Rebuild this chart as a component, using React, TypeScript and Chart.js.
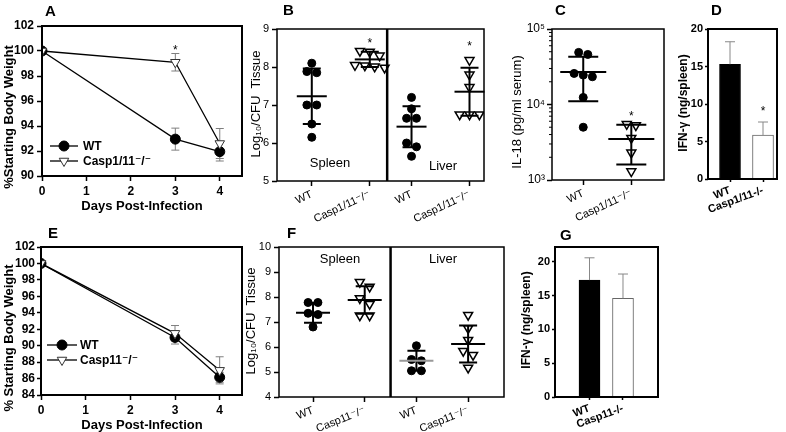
import React, { useEffect, useRef } from "react";
import { Chart, registerables } from "chart.js";

Chart.register(...registerables);

// ---------------- DATA ----------------
// Panel A: body weight (Casp1/11-/- vs WT)
const daysA = [0, 3, 4];
const weightWT_A = [100, 92.95, 91.95];
const weightWT_A_err = [0, 0.88, 0.75];
const weightCasp_A = [100, 99.1, 92.6];
const weightCasp_A_err = [0, 0.7, 1.2];

// Panel B: Log10 CFU per tissue
const bLabels = ["WT", "Casp1/11\u207B/\u207B", "WT", "Casp1/11\u207B/\u207B"];
const bSpleenWT = [8.1, 7.88, 7.85, 7.0, 7.0, 6.5, 6.15];
const bSpleenCasp = [8.42, 8.4, 8.3, 8.05, 8.04, 8.01, 7.98];
const bLiverWT = [7.2, 6.9, 6.65, 6.65, 6.0, 5.9, 5.65];
const bLiverCasp = [8.18, 7.8, 7.47, 6.75, 6.75, 6.75];
const bMeans = [7.23, 8.2, 6.43, 7.35];
const bSDs = [0.73, 0.2, 0.54, 0.63];

// Panel C: IL-18 (pg/ml serum)
const cLabels = ["WT", "Casp1/11\u207B/\u207B"];
const cWT = [49000, 46000, 25800, 24500, 23300, 12400, 5000];
const cCasp = [5500, 5300, 3600, 2300, 1300];
const cMeans = [27000, 3500];
const cSDs = [16000, 1900];

// Panel D: IFN-gamma
const dLabels = ["WT", "Casp1/11-/-"];
const dIFN = [15.3, 5.85];
const dIFNerr = [3.0, 1.75];

// Panel E: body weight (Casp11-/- vs WT)
const daysE = [0, 3, 4];
const weightWT_E = [100, 91.0, 86.15];
const weightWT_E_err = [0, 0.8, 0.6];
const weightCasp_E = [100, 91.5, 87.0];
const weightCasp_E_err = [0, 0.95, 1.65];

// Panel F: Log10 CFU per tissue
const fLabels = ["WT", "Casp11\u207B/\u207B", "WT", "Casp11\u207B/\u207B"];
const fSpleenWT = [7.78, 7.78, 7.35, 7.3, 6.8];
const fSpleenCasp = [8.6, 8.41, 7.95, 7.72, 7.26, 7.26];
const fLiverWT = [6.05, 5.5, 5.45, 5.05, 5.05];
const fLiverCasp = [7.28, 6.75, 6.28, 5.84, 5.68, 5.17];
const fMeans = [7.37, 7.88, 5.45, 6.12];
const fSDs = [0.4, 0.55, 0.4, 0.74];

// Panel G: IFN-gamma
const gLabels = ["WT", "Casp11-/-"];
const gIFN = [17.3, 14.6];
const gIFNerr = [3.3, 3.6];

// ---------------- LAYOUT ----------------
const W = 786;
const H = 432;
const FONT = "'Liberation Sans', Arial, Helvetica, 'DejaVu Sans', sans-serif";
const f = (size: number, bold = false) => ({ size, weight: bold ? "bold" : "normal", family: FONT });
const cssFont = (size: number, bold = false) => `${bold ? "bold " : ""}${size}px ${FONT}`;

const B_POS = [1, 2, 2.72, 3.72];
const B_DIV = 2.3;
const F_POS = [1, 2, 3, 4];
const F_DIV = 2.5;

type Rect = { l: number; t: number; r: number; b: number };
type TextItem = {
  text: string; x: number; y: number; font: string;
  align?: CanvasTextAlign; rot?: boolean; data?: boolean; star?: boolean; color?: string;
};
type Summary = { x: number; mean: number; sd: number; meanHalf: number; capHalf: number; meanColor?: string };
type PanelCfg = {
  frameWidth: number;
  dividers?: { x: number; width: number }[];
  texts?: TextItem[];
  summaries?: Summary[];
  legend?: { x1: number; x2: number; mx: number; tx: number; font: string; items: { y: number; ds: number }[] };
  minorLog?: number[];
};

function drawMarker(ctx: CanvasRenderingContext2D, shape: string, x: number, y: number, r: number, fill: string, stroke: string, lw: number) {
  ctx.beginPath();
  if (shape === "circle") ctx.arc(x, y, r, 0, Math.PI * 2);
  else {
    ctx.moveTo(x - r * 0.866, y - r * 0.5);
    ctx.lineTo(x + r * 0.866, y - r * 0.5);
    ctx.lineTo(x, y + r);
    ctx.closePath();
  }
  ctx.fillStyle = fill;
  ctx.fill();
  ctx.lineWidth = lw;
  ctx.strokeStyle = stroke;
  ctx.stroke();
}

function drawErrors(chart: any, layer: string) {
  const ctx = chart.ctx as CanvasRenderingContext2D;
  const ys = chart.scales.y;
  chart.data.datasets.forEach((ds: any, i: number) => {
    if (!ds.errors || ds.errLayer !== layer) return;
    const meta = chart.getDatasetMeta(i);
    ctx.save();
    ctx.strokeStyle = ds.errColor || "#808080";
    ctx.lineWidth = 1;
    ds.data.forEach((p: any, j: number) => {
      const e = ds.errors[j];
      if (!e) return;
      const el = meta.data[j];
      const x = el.x;
      const yt = ys.getPixelForValue(p.y + e);
      const yb = ds.oneSided ? el.y : ys.getPixelForValue(p.y - e);
      const c = ds.errCap || 4;
      ctx.beginPath();
      ctx.moveTo(x, yt); ctx.lineTo(x, yb);
      ctx.moveTo(x - c, yt); ctx.lineTo(x + c, yt);
      if (!ds.oneSided) { ctx.moveTo(x - c, yb); ctx.lineTo(x + c, yb); }
      ctx.stroke();
    });
    ctx.restore();
  });
}

function makePlugin(cfg: PanelCfg) {
  return {
    id: "panel",
    beforeDatasetsDraw(chart: any) {
      drawErrors(chart, "under");
    },
    afterDatasetsDraw(chart: any) {
      drawErrors(chart, "over");
      const ctx = chart.ctx as CanvasRenderingContext2D;
      const ca = chart.chartArea;
      const xs = chart.scales.x;
      const ys = chart.scales.y;
      ctx.save();
      (cfg.summaries || []).forEach((s) => {
        const x = xs.getPixelForValue(s.x);
        const ym = ys.getPixelForValue(s.mean);
        const yt = ys.getPixelForValue(s.mean + s.sd);
        const yb = ys.getPixelForValue(s.mean - s.sd);
        ctx.strokeStyle = "#000";
        ctx.lineWidth = 2;
        ctx.beginPath();
        ctx.moveTo(x, yt); ctx.lineTo(x, yb);
        ctx.moveTo(x - s.capHalf, yt); ctx.lineTo(x + s.capHalf, yt);
        ctx.moveTo(x - s.capHalf, yb); ctx.lineTo(x + s.capHalf, yb);
        ctx.stroke();
        ctx.strokeStyle = s.meanColor || "#000";
        ctx.beginPath();
        ctx.moveTo(x - s.meanHalf, ym); ctx.lineTo(x + s.meanHalf, ym);
        ctx.stroke();
      });
      (cfg.dividers || []).forEach((d) => {
        const x = xs.getPixelForValue(d.x);
        ctx.strokeStyle = "#000";
        ctx.lineWidth = d.width;
        ctx.beginPath();
        ctx.moveTo(x, ca.top); ctx.lineTo(x, ca.bottom);
        ctx.stroke();
      });
      if (cfg.minorLog) {
        ctx.strokeStyle = "#000";
        ctx.lineWidth = 1;
        cfg.minorLog.forEach((v) => {
          const y = ys.getPixelForValue(v);
          ctx.beginPath();
          ctx.moveTo(ca.left - 3, y); ctx.lineTo(ca.left, y);
          ctx.stroke();
        });
      }
      ctx.strokeStyle = "#000";
      ctx.lineWidth = cfg.frameWidth;
      ctx.strokeRect(ca.left, ca.top, ca.right - ca.left, ca.bottom - ca.top);
      ctx.restore();
    },
    afterDraw(chart: any) {
      const ctx = chart.ctx as CanvasRenderingContext2D;
      (cfg.texts || []).forEach((t) => {
        let x = t.x, y = t.y;
        if (t.data) { x = chart.scales.x.getPixelForValue(t.x); y = chart.scales.y.getPixelForValue(t.y); }
        ctx.save();
        ctx.font = t.font;
        ctx.fillStyle = t.color || "#000";
        ctx.translate(x, y);
        if (t.rot) {
          ctx.rotate(-Math.PI / 2);
          ctx.textAlign = "center";
          ctx.textBaseline = "middle";
          ctx.fillText(t.text, 0, 0);
        } else {
          ctx.textAlign = t.align || "left";
          ctx.textBaseline = "alphabetic";
          ctx.fillText(t.text, 0, t.star ? 7 : 0);
        }
        ctx.restore();
      });
      const lg = cfg.legend;
      if (lg) {
        lg.items.forEach((it) => {
          const ds = chart.data.datasets[it.ds];
          ctx.save();
          ctx.strokeStyle = "#000";
          ctx.lineWidth = 1.3;
          ctx.beginPath();
          ctx.moveTo(lg.x1, it.y); ctx.lineTo(lg.x2, it.y);
          ctx.stroke();
          drawMarker(ctx, ds.pointStyle === "circle" ? "circle" : "tri", lg.mx, it.y, ds.pointRadius, ds.pointBackgroundColor, ds.pointBorderColor, ds.pointBorderWidth);
          ctx.font = lg.font;
          ctx.fillStyle = "#000";
          ctx.textAlign = "left";
          ctx.textBaseline = "middle";
          ctx.fillText(ds.label, lg.tx, it.y + 1);
          ctx.restore();
        });
      }
    },
  };
}

const gridCfg = (len: number) => ({
  display: true, drawOnChartArea: false, drawTicks: true, tickLength: len,
  tickColor: "#000", tickWidth: 1.5, offset: false,
});

function zeroPad(s: any) {
  s.paddingLeft = 0; s.paddingRight = 0; s.paddingTop = 0; s.paddingBottom = 0;
}

function buildConfig(p: { rect: Rect; yw: number; xh: number; type: string; datasets: any[]; x: any; y: any; plugin: any }) {
  const pad = { left: p.rect.l - p.yw, top: p.rect.t, right: W - p.rect.r, bottom: H - p.rect.b - p.xh };
  return {
    type: p.type,
    data: { datasets: p.datasets },
    options: {
      responsive: false,
      animation: false,
      events: [],
      layout: { padding: pad },
      plugins: { legend: { display: false }, tooltip: { enabled: false }, title: { display: false } },
      scales: {
        x: { ...p.x, offset: false, border: { display: false }, afterFit: (s: any) => { s.height = p.xh; zeroPad(s); } },
        y: { ...p.y, ticks: { autoSkip: false, ...p.y.ticks }, border: { display: false }, afterFit: (s: any) => { s.width = p.yw; zeroPad(s); } },
      },
    },
    plugins: [p.plugin],
  } as any;
}

function spread(values: number[], center: number, thr: number, step: number, log = false) {
  const key = (v: number) => (log ? Math.log10(v) : v);
  const idx = values.map((_, i) => i).sort((a, b) => values[b] - values[a]);
  const clusters: number[][] = [];
  idx.forEach((i) => {
    const last = clusters[clusters.length - 1];
    if (last && key(values[last[last.length - 1]]) - key(values[i]) < thr) last.push(i);
    else clusters.push([i]);
  });
  const out = values.map((v) => ({ x: center, y: v }));
  clusters.forEach((c) => c.forEach((i, k) => { out[i].x = center + (k - (c.length - 1) / 2) * step; }));
  return out;
}

const lineDs = (label: string, xs: number[], ys: number[], errs: number[], shape: string) => ({
  label,
  data: xs.map((x, i) => ({ x, y: ys[i] })),
  errors: errs, errLayer: "under", errColor: "#7f7f7f", errCap: 4,
  showLine: true, borderColor: "#000", borderWidth: 1.3,
  pointStyle: shape === "circle" ? "circle" : "triangle",
  pointRotation: shape === "circle" ? 0 : 180,
  pointRadius: shape === "circle" ? 5 : 5.5,
  pointBackgroundColor: shape === "circle" ? "#000" : "#fff",
  pointBorderColor: shape === "circle" ? "#000" : "#333",
  pointBorderWidth: 1,
});

const dotDs = (label: string, data: any[]) => ({
  label, data, showLine: false, pointStyle: "circle", pointRadius: 4,
  pointBackgroundColor: "#000", pointBorderColor: "#000", pointBorderWidth: 1,
});
const triDs = (label: string, data: any[]) => ({
  label, data, showLine: false, pointStyle: "triangle", pointRotation: 180, pointRadius: 5.2,
  pointBackgroundColor: "#fff", pointBorderColor: "#000", pointBorderWidth: 1.5,
});

const star = (x: number, y: number): TextItem => ({ text: "*", x, y, data: true, star: true, align: "center", font: cssFont(12) });

const fixedTicks = (pos: number[]) => (s: any) => { s.ticks = pos.map((v) => ({ value: v })); };

// ---------------- PANELS ----------------
function specA() {
  return buildConfig({
    rect: { l: 42, t: 26, r: 242, b: 176 }, yw: 42, xh: 40, type: "scatter",
    datasets: [
      lineDs("Casp1/11\u207B/\u207B", daysA, weightCasp_A, weightCasp_A_err, "tri"),
      lineDs("WT", daysA, weightWT_A, weightWT_A_err, "circle"),
    ],
    x: { type: "linear", min: 0, max: 4.5, ticks: { stepSize: 1, includeBounds: false, font: f(12, true), color: "#000", padding: 3 }, grid: gridCfg(5) },
    y: { type: "linear", min: 90, max: 102, ticks: { stepSize: 2, font: f(12, true), color: "#000", padding: 3 }, grid: gridCfg(5) },
    plugin: makePlugin({
      frameWidth: 2,
      texts: [
        { text: "A", x: 45, y: 16, font: cssFont(15, true) },
        { text: "%Starting Body Weight", x: 9, y: 117, font: cssFont(13, true), rot: true },
        { text: "Days Post-Infection", x: 142, y: 210, font: cssFont(13, true), align: "center" },
        star(3, 100.3),
      ],
      legend: { x1: 50, x2: 78, mx: 64, tx: 83, font: cssFont(12, true), items: [{ y: 146, ds: 1 }, { y: 161, ds: 0 }] },
    }),
  });
}

function specB() {
  const step = 0.17;
  const wt = [...spread(bSpleenWT, B_POS[0], 0.15, step), ...spread(bLiverWT, B_POS[2], 0.15, step)];
  const ca = [...spread(bSpleenCasp, B_POS[1], 0.15, step), ...spread(bLiverCasp, B_POS[3], 0.15, step)];
  return buildConfig({
    rect: { l: 277, t: 29, r: 484, b: 181 }, yw: 31, xh: 45, type: "scatter",
    datasets: [triDs("Casp1/11", ca), dotDs("WT", wt)],
    x: {
      type: "linear", min: 0.4, max: 3.97, afterBuildTicks: fixedTicks(B_POS),
      ticks: { autoSkip: false, minRotation: 25, maxRotation: 25, font: f(11), color: "#000", padding: 2, callback: (_v: any, i: number) => bLabels[i] },
      grid: gridCfg(5),
    },
    y: { type: "linear", min: 5, max: 9, ticks: { stepSize: 1, font: f(11), color: "#000", padding: 3 }, grid: gridCfg(5) },
    plugin: makePlugin({
      frameWidth: 1.5,
      dividers: [{ x: B_DIV, width: 2.5 }],
      summaries: B_POS.map((x, i) => ({ x, mean: bMeans[i], sd: bSDs[i], meanHalf: 15, capHalf: 9 })),
      texts: [
        { text: "B", x: 283, y: 15, font: cssFont(15, true) },
        { text: "Log\u2081\u2080/CFU  Tissue", x: 256, y: 104, font: cssFont(13), rot: true },
        { text: "Spleen", x: 330, y: 167, font: cssFont(13), align: "center" },
        { text: "Liver", x: 443, y: 170, font: cssFont(13), align: "center" },
        star(B_POS[1], 8.72),
        star(B_POS[3], 8.63),
      ],
    }),
  });
}

function specC() {
  const step = 0.19;
  const minors: number[] = [];
  [1000, 10000].forEach((d) => { for (let k = 2; k <= 9; k++) minors.push(k * d); });
  const sup: Record<number, string> = { 1000: "10\u00B3", 10000: "10\u2074", 100000: "10\u2075" };
  return buildConfig({
    rect: { l: 552, t: 29, r: 664, b: 180 }, yw: 44, xh: 45, type: "scatter",
    datasets: [triDs("Casp1/11", spread(cCasp, 2, 0.06, step, true)), dotDs("WT", spread(cWT, 1, 0.06, step, true))],
    x: {
      type: "linear", min: 0.35, max: 2.68, afterBuildTicks: fixedTicks([1, 2]),
      ticks: { autoSkip: false, minRotation: 25, maxRotation: 25, font: f(11), color: "#000", padding: 2, callback: (_v: any, i: number) => cLabels[i] },
      grid: gridCfg(5),
    },
    y: {
      type: "logarithmic", min: 1000, max: 100000, afterBuildTicks: fixedTicks([1000, 10000, 100000]),
      ticks: { font: f(12), color: "#000", padding: 2, callback: (v: any) => sup[v] || "" },
      grid: gridCfg(5),
    },
    plugin: makePlugin({
      frameWidth: 1.5,
      minorLog: minors,
      summaries: [1, 2].map((x, i) => ({ x, mean: cMeans[i], sd: cSDs[i], meanHalf: 23, capHalf: 15 })),
      texts: [
        { text: "C", x: 555, y: 15, font: cssFont(15, true) },
        { text: "IL-18 (pg/ml serum)", x: 517, y: 112, font: cssFont(13), rot: true },
        star(2, 7700),
      ],
    }),
  });
}

function barConfig(rect: Rect, yw: number, xmin: number, xmax: number, ymax: number, vals: number[], errs: number[], labels: string[], thick: number, texts: TextItem[]) {
  return buildConfig({
    rect, yw, xh: 45, type: "bar",
    datasets: [{
      data: vals.map((v, i) => ({ x: i + 1, y: v })),
      backgroundColor: ["#000", "#fff"], borderColor: ["#000", "#666"], borderWidth: 1,
      barThickness: thick, errors: errs, errLayer: "over", oneSided: true, errColor: "#888", errCap: 5,
    }],
    x: {
      type: "linear", min: xmin, max: xmax, afterBuildTicks: fixedTicks([1, 2]),
      ticks: { autoSkip: false, minRotation: 20, maxRotation: 20, font: f(11, true), color: "#000", padding: 2, callback: (_v: any, i: number) => labels[i] },
      grid: gridCfg(3),
    },
    y: { type: "linear", min: 0, max: ymax, ticks: { stepSize: 5, includeBounds: false, font: f(11, true), color: "#000", padding: 2 }, grid: gridCfg(3) },
    plugin: makePlugin({ frameWidth: 2, texts }),
  });
}

function specD() {
  return barConfig({ l: 708, t: 29, r: 777, b: 179 }, 33, 0.333, 2.424, 20, dIFN, dIFNerr, dLabels, 21, [
    { text: "D", x: 711, y: 15, font: cssFont(15, true) },
    { text: "IFN-\u03B3 (ng/spleen)", x: 684, y: 103, font: cssFont(12, true), rot: true },
    star(2, 9.47),
  ]);
}

function specE() {
  return buildConfig({
    rect: { l: 41, t: 247, r: 242, b: 395 }, yw: 41, xh: 37, type: "scatter",
    datasets: [
      lineDs("Casp11\u207B/\u207B", daysE, weightCasp_E, weightCasp_E_err, "tri"),
      lineDs("WT", daysE, weightWT_E, weightWT_E_err, "circle"),
    ],
    x: { type: "linear", min: 0, max: 4.5, ticks: { stepSize: 1, includeBounds: false, font: f(12, true), color: "#000", padding: 3 }, grid: gridCfg(5) },
    y: { type: "linear", min: 84, max: 102, ticks: { stepSize: 2, autoSkip: false, font: f(12, true), color: "#000", padding: 2 }, grid: gridCfg(4) },
    plugin: makePlugin({
      frameWidth: 2,
      texts: [
        { text: "E", x: 48, y: 238, font: cssFont(15, true) },
        { text: "% Starting Body Weight", x: 9, y: 338, font: cssFont(13, true), rot: true },
        { text: "Days Post-Infection", x: 142, y: 429, font: cssFont(13, true), align: "center" },
      ],
      legend: { x1: 47, x2: 77, mx: 62, tx: 80, font: cssFont(12, true), items: [{ y: 345, ds: 1 }, { y: 360, ds: 0 }] },
    }),
  });
}

function specF() {
  const step = 0.19;
  const wt = [...spread(fSpleenWT, F_POS[0], 0.25, step), ...spread(fLiverWT, F_POS[2], 0.25, step)];
  const ca = [...spread(fSpleenCasp, F_POS[1], 0.25, step), ...spread(fLiverCasp, F_POS[3], 0.25, step)];
  return buildConfig({
    rect: { l: 279, t: 247, r: 504, b: 397 }, yw: 30, xh: 35, type: "scatter",
    datasets: [triDs("Casp11", ca), dotDs("WT", wt)],
    x: {
      type: "linear", min: 0.342, max: 4.694, afterBuildTicks: fixedTicks(F_POS),
      ticks: { autoSkip: false, minRotation: 22, maxRotation: 22, font: f(11), color: "#000", padding: 2, callback: (_v: any, i: number) => fLabels[i] },
      grid: gridCfg(5),
    },
    y: { type: "linear", min: 4, max: 10, ticks: { stepSize: 1, font: f(11), color: "#000", padding: 3 }, grid: gridCfg(5) },
    plugin: makePlugin({
      frameWidth: 1.5,
      dividers: [{ x: F_DIV, width: 2.5 }],
      summaries: F_POS.map((x, i) => ({ x, mean: fMeans[i], sd: fSDs[i], meanHalf: 17, capHalf: 9, meanColor: i === 2 ? "#999" : "#000" })),
      texts: [
        { text: "F", x: 287, y: 238, font: cssFont(15, true) },
        { text: "Log\u2081\u2080/CFU  Tissue", x: 251, y: 321, font: cssFont(13), rot: true },
        { text: "Spleen", x: 340, y: 263, font: cssFont(13), align: "center" },
        { text: "Liver", x: 443, y: 263, font: cssFont(13), align: "center" },
      ],
    }),
  });
}

function specG() {
  return barConfig({ l: 555, t: 247, r: 658, b: 397 }, 30, -0.03, 3.045, 22.2, gIFN, gIFNerr, gLabels, 21, [
    { text: "G", x: 560, y: 240, font: cssFont(15, true) },
    { text: "IFN-\u03B3 (ng/spleen)", x: 527, y: 320, font: cssFont(12, true), rot: true },
  ]);
}

const SPECS = [specA, specB, specC, specD, specE, specF, specG];

function Panel({ spec }: { spec: () => any }) {
  const ref = useRef<HTMLCanvasElement>(null);
  useEffect(() => {
    const chart = new Chart(ref.current as HTMLCanvasElement, spec());
    return () => chart.destroy();
  }, [spec]);
  return <canvas ref={ref} width={W} height={H} style={{ position: "absolute", left: 0, top: 0, width: W, height: H }} />;
}

export default function App() {
  return (
    <div style={{ position: "absolute", left: 0, top: 0, width: W, height: H, background: "#fff", overflow: "hidden" }}>
      {SPECS.map((s, i) => (
        <Panel key={i} spec={s} />
      ))}
    </div>
  );
}
